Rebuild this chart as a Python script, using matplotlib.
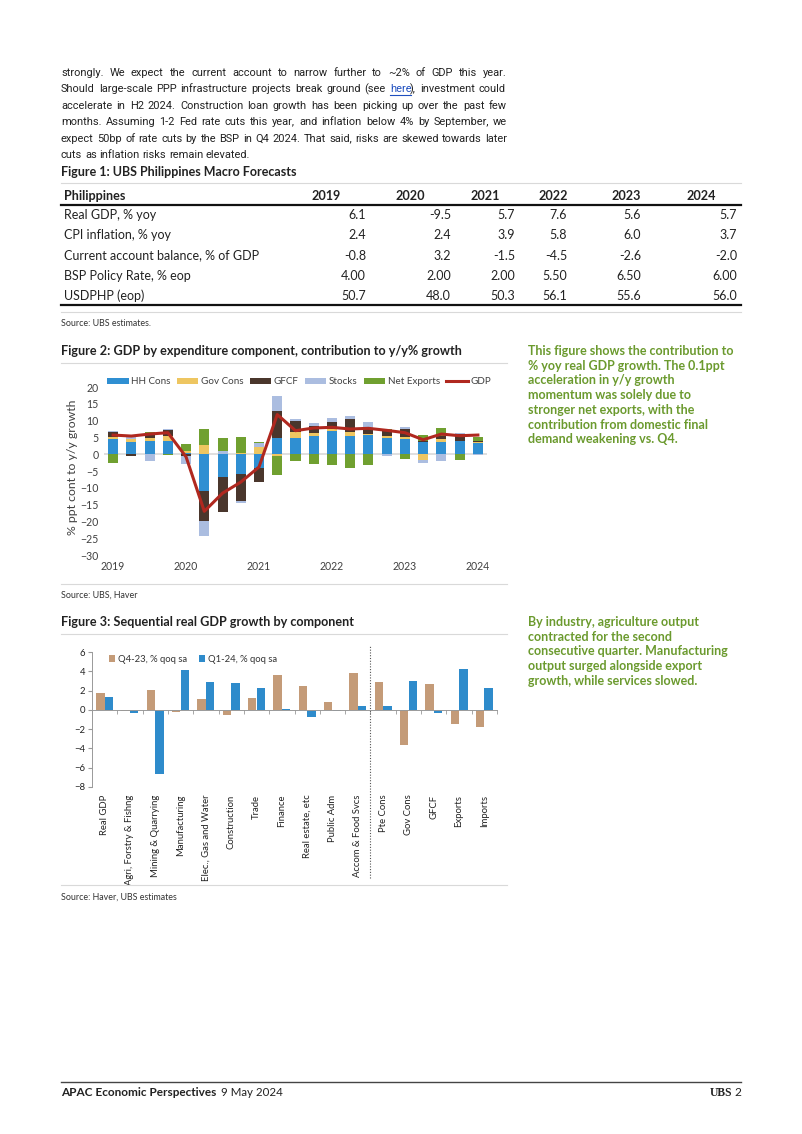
import numpy as np
import matplotlib
matplotlib.use('Agg')
import matplotlib.pyplot as plt
from matplotlib.lines import Line2D

plt.rcParams['font.family'] = ['Lato', 'DejaVu Sans']

W, H = 802, 1134

# ---- text data
body_lines = [
    "strongly. We expect the current account to narrow further to ~2% of GDP this year.",
    "Should large-scale PPP infrastructure projects break ground (see here), investment could",
    "accelerate in H2 2024. Construction loan growth has been picking up over the past few",
    "months. Assuming 1-2 Fed rate cuts this year, and inflation below 4% by September, we",
    "expect 50bp of rate cuts by the BSP in Q4 2024. That said, risks are skewed towards later",
    "cuts as inflation risks remain elevated.",
]
side1_lines = [
    "This figure shows the contribution to",
    "% yoy real GDP growth. The 0.1ppt",
    "acceleration in y/y growth",
    "momentum was solely due to",
    "stronger net exports, with the",
    "contribution from domestic final",
    "demand weakening vs. Q4.",
]
side2_lines = [
    "By industry, agriculture output",
    "contracted for the second",
    "consecutive quarter. Manufacturing",
    "output surged alongside export",
    "growth, while services slowed.",
]

# ---- figure 1 table
years = ['2019', '2020', '2021', '2022', '2023', '2024']
row_names = ['Real GDP, % yoy', 'CPI inflation, % yoy', 'Current account balance, % of GDP',
             'BSP Policy Rate, % eop', 'USDPHP (eop)']
real_gdp = [6.1, -9.5, 5.7, 7.6, 5.6, 5.7]
cpi = [2.4, 2.4, 3.9, 5.8, 6.0, 3.7]
cab = [-0.8, 3.2, -1.5, -4.5, -2.6, -2.0]
policy = [4.00, 2.00, 2.00, 5.50, 6.50, 6.00]
usdphp = [50.7, 48.0, 50.3, 56.1, 55.6, 56.0]
row_fmt = ['%.1f', '%.1f', '%.1f', '%.2f', '%.1f']

# ---- figure 2: contributions, Q1 2019 .. Q1 2024
year_ticks = ['2019', '2020', '2021', '2022', '2023', '2024']
hh = [4.4, 3.6, 4.0, 3.9, 0.3, -10.9, -6.9, -5.8, -4.0, 4.9, 4.9, 5.4, 6.9, 5.5, 5.7, 4.9, 4.5, 3.5, 3.5, 4.0, 3.2]
gov = [0.6, 0.8, 0.9, 1.6, 0.6, 2.7, 0.2, 0.3, 2.0, -0.6, 1.8, 1.0, 0.6, 1.2, 0.3, 0.5, 0.6, -1.8, 0.9, 0.0, 0.3]
gfcf = [1.6, -0.4, 1.5, 1.7, -0.5, -9.0, -10.4, -8.1, -4.3, 7.9, 3.2, 2.1, 2.0, 3.7, 1.8, 1.7, 2.3, 0.5, 1.0, 1.9, 0.4]
stocks = [0.3, 1.4, -2.0, 0.4, -2.5, -4.4, 0.7, -0.6, 1.2, 4.6, 0.7, 0.7, 1.2, 1.0, 1.8, -0.5, 0.6, -0.7, -2.1, 0.5, -0.3]
nx = [-2.5, 0.0, 0.3, -0.3, 2.0, 4.8, 3.8, 4.9, 0.4, -5.6, -2.1, -3.0, -3.3, -4.2, -3.3, 0.5, -1.4, 1.7, 2.3, -1.8, 1.2]
gdp = [5.7, 5.4, 6.0, 6.4, -0.8, -17.0, -11.6, -8.3, -3.8, 11.8, 7.0, 7.8, 8.0, 7.5, 7.7, 7.1, 6.4, 4.3, 6.0, 5.5, 5.7]

# ---- figure 3: sequential growth
sectors = ['Real GDP', 'Agri, Forstry & Fishng', 'Mining & Quarrying', 'Manufacturing',
           'Elec., Gas and Water', 'Construction', 'Trade', 'Finance', 'Real estate, etc',
           'Public Adm', 'Accom & Food Svcs', 'Pte Cons', 'Gov Cons', 'GFCF', 'Exports', 'Imports']
q4_23 = [1.7, -0.1, 2.1, -0.2, 1.1, -0.5, 1.2, 3.6, 2.5, 0.8, 3.8, 2.9, -3.6, 2.7, -1.5, -1.8]
q1_24 = [1.3, -0.3, -6.7, 4.1, 2.9, 2.8, 2.3, 0.05, -0.7, -0.1, 0.4, 0.4, 3.0, -0.3, 4.2, 2.3]

GREEN = '#6b9a2e'
DARK = '#222222'
BODY_FONT = ['Roboto', 'DejaVu Sans']

fig = plt.figure(figsize=(W / 100, H / 100), dpi=100)
fig.set_dpi(100)


def T(x, y, s, **kw):
    kw.setdefault('va', 'center')
    kw.setdefault('color', DARK)
    return fig.text(x / W, 1 - y / H, s, **kw)


def width_px(art):
    r = fig.canvas.get_renderer()
    return art.get_window_extent(r).width * 100.0 / fig.dpi


def hline(x0, x1, y, color='#d9d9d9', lw=0.8):
    fig.add_artist(Line2D([x0 / W, x1 / W], [1 - y / H, 1 - y / H], color=color, lw=lw,
                          transform=fig.transFigure))


def px_axes(x0, y0, x1, y1):
    return fig.add_axes([x0 / W, 1 - y1 / H, (x1 - x0) / W, (y1 - y0) / H])


def justified(lines, x0, x1, y0, dy, size, link=None, **kw):
    # shrink the size until every full line fits the column with normal spacing
    widest = 0
    for line in lines[:-1]:
        t = T(0, y0, line, fontsize=size, **kw)
        widest = max(widest, width_px(t))
        t.remove()
    size = size * min(1.0, (x1 - x0) * 0.985 / widest)
    for i, line in enumerate(lines):
        y = y0 + i * dy
        words = line.split()
        last = i == len(lines) - 1
        pieces = []
        for w in words:
            if link and w.startswith(link):
                parts = [(link, '#1f4fbf'), (w[len(link):], DARK)]
            else:
                parts = [(w, DARK)]
            arts = [T(0, y, p, color=c, fontsize=size, **kw) for p, c in parts if p]
            wid = [width_px(a) for a in arts]
            pieces.append((arts, wid))
        total = sum(sum(wd) for _, wd in pieces)
        if last:
            sp = T(0, y, 'a b', fontsize=size, **kw)
            ab = T(0, y, 'ab', fontsize=size, **kw)
            gap = width_px(sp) - width_px(ab)
            sp.remove()
            ab.remove()
        else:
            gap = (x1 - x0 - total) / (len(pieces) - 1)
        x = x0
        for arts, wid in pieces:
            for a, w in zip(arts, wid):
                a.set_x(x / W)
                if link and a.get_text() == link:
                    hline(x, x + w, y + 6, color='#1f4fbf', lw=0.8)
                    x -= 1.5
                x += w
            x += gap


# ---- body paragraph
justified(body_lines, 61, 507, 73, 16.4, 9.6, link='here', family=BODY_FONT)

# ---- figure 1
T(61, 172, 'Figure 1: UBS Philippines Macro Forecasts', fontsize=9.0, fontweight='bold')
hline(61, 741, 183)
T(64, 196, 'Philippines', fontsize=9.1, fontweight='bold')
head_right = [341, 425, 500, 568, 641, 716]
val_right = [366, 451, 515, 567, 641, 737]
for yr, xr in zip(years, head_right):
    T(xr, 196, yr, fontsize=9.1, fontweight='bold', ha='right')
hline(61, 741, 205, color='#111111', lw=1.6)
rows = [real_gdp, cpi, cab, policy, usdphp]
for i, (name, vals, fmt) in enumerate(zip(row_names, rows, row_fmt)):
    y = 215 + i * 20.3
    T(64, y, name, fontsize=9.0)
    for v, xr in zip(vals, val_right):
        T(xr, y, fmt % v, fontsize=9.0, ha='right')
hline(61, 741, 305, color='#111111', lw=1.6)
hline(61, 741, 312)
T(61, 324, 'Source: UBS estimates.', fontsize=6.4, color='#333333')

# ---- figure 2
T(61, 351, 'Figure 2: GDP by expenditure component, contribution to y/y% growth',
  fontsize=9.1, fontweight='bold')
hline(61, 507, 363)
ax2 = px_axes(104, 387, 487, 555)
n = len(gdp)
xq = np.arange(n)
series = [(hh, '#2f8fd2', 'HH Cons'), (gov, '#eec661', 'Gov Cons'), (gfcf, '#4a362c', 'GFCF'),
          (stocks, '#abbde0', 'Stocks'), (nx, '#70a030', 'Net Exports')]
pos_base = np.zeros(n)
neg_base = np.zeros(n)
for vals, col, lab in series:
    v = np.array(vals)
    base = np.where(v >= 0, pos_base, neg_base)
    ax2.bar(xq, v, 0.55, bottom=base, color=col, label=lab, zorder=2)
    pos_base += np.where(v >= 0, v, 0)
    neg_base += np.where(v < 0, v, 0)
ax2.plot(xq, gdp, color='#b0281f', lw=2.2, label='GDP', zorder=3)
ax2.axhline(0, color='#d9d9d9', lw=1.2, zorder=1)
ax2.set_xlim(-0.5, n - 0.5)
ax2.set_ylim(-30, 20)
ax2.set_yticks(np.arange(-30, 21, 5))
ax2.set_xticks(np.arange(0, n, 4))
ax2.set_xticklabels(year_ticks)
ax2.tick_params(length=0, labelsize=7.6, labelcolor='#404040', pad=4)
for s in ax2.spines.values():
    s.set_visible(False)
h, l = ax2.get_legend_handles_labels()
order = [1, 2, 3, 4, 5, 0]
fig.legend([h[i] for i in order], [l[i] for i in order], loc='center left',
           bbox_to_anchor=(100 / W, 1 - 382 / H), ncol=6, frameon=False, fontsize=7.1,
           handlelength=2.2, handleheight=0.6, handletextpad=0.25, columnspacing=0.62,
           borderpad=0.2, labelcolor='#404040')
T(73, 467, '% ppt cont to y/y growth', fontsize=8.8, rotation=90, ha='center',
  color='#404040')
hline(61, 507, 584)
T(61, 595, 'Source: UBS, Haver', fontsize=6.4, color='#333333')

# ---- side notes
for i, s in enumerate(side1_lines):
    T(528, 351 + i * 14.7, s, fontsize=9.0, fontweight='bold', color=GREEN)
for i, s in enumerate(side2_lines):
    T(528, 622 + i * 14.7, s, fontsize=9.0, fontweight='bold', color=GREEN)

# ---- figure 3
T(61, 622, 'Figure 3: Sequential real GDP growth by component', fontsize=9.1, fontweight='bold')
hline(61, 507, 634)
ax3 = px_axes(92, 652, 497, 787)
xs = np.arange(len(sectors))
ax3.bar(xs - 0.17, q4_23, 0.33, color='#c49b78', label='Q4-23, % qoq sa', zorder=2)
ax3.bar(xs + 0.17, q1_24, 0.33, color='#2e8bcb', label='Q1-24, % qoq sa', zorder=2)
ax3.set_xlim(-0.5, len(sectors) - 0.5)
ax3.set_ylim(-8, 6)
ax3.set_yticks(np.arange(-8, 7, 2))
ax3.set_xticks(xs)
ax3.set_xticklabels([])
ax3.tick_params(axis='x', length=0)
ax3.set_xticks(np.arange(-0.5, len(sectors), 1), minor=True)
ax3.tick_params(axis='x', which='minor', length=3, color='#999999')
ax3.tick_params(axis='y', length=3, color='#999999', labelsize=6.8, labelcolor='#222222', pad=2)
for s in ['top', 'right']:
    ax3.spines[s].set_visible(False)
ax3.spines['bottom'].set_position(('data', 0))
ax3.spines['bottom'].set_color('#999999')
ax3.spines['left'].set_color('#999999')
ax3.spines['bottom'].set_linewidth(0.7)
ax3.spines['left'].set_linewidth(0.7)
for x, lab in zip(xs, sectors):
    ax3.text(x, -8.8, lab, rotation=90, ha='center', va='top', fontsize=6.8, color='#222222')
ax3.axvline(10.5, ymin=-0.674, ymax=1.052, clip_on=False, ls=(0, (1, 1.5)), color='#555555', lw=0.8)
ax3.legend(loc='upper left', bbox_to_anchor=(0.02, 1.04), ncol=2, frameon=False, fontsize=6.8,
           handlelength=0.7, handleheight=0.7, handletextpad=0.3, columnspacing=1.2,
           labelcolor='#333333')
hline(61, 507, 885)
T(61, 897, 'Source: Haver, UBS estimates', fontsize=6.4, color='#333333')

# ---- footer
hline(61, 741, 1082, color='#444444', lw=1.0)
ft = T(61, 1093, 'APAC Economic Perspectives', fontsize=8.5, fontweight='bold')
T(61 + width_px(ft) + 5, 1093, '9 May 2024', fontsize=8.3)
T(732, 1093, 'UBS', fontsize=8.4, fontweight='bold', ha='right',
  family=['Liberation Serif', 'DejaVu Serif'])
T(741, 1093, '2', fontsize=8.6, ha='right')

fig.savefig('out.png', dpi=100)
